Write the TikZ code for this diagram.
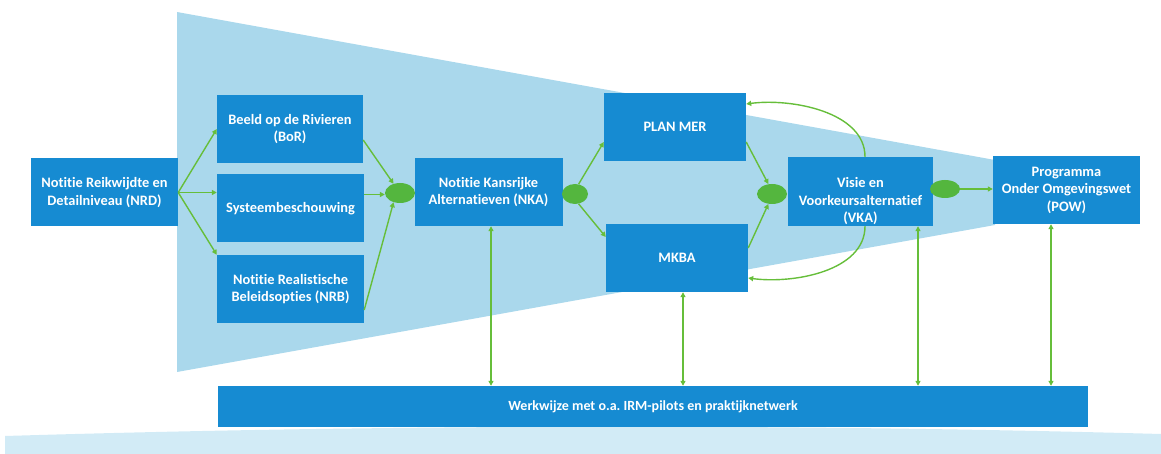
\documentclass[tikz,border=0pt]{standalone}
\usepackage{fontspec}
\setmainfont[Ligatures=NoCommon]{Carlito}
\usetikzlibrary{shapes.geometric,arrows.meta,calc}
\definecolor{boxblue}{RGB}{22,139,210}
\definecolor{funnelblue}{RGB}{170,216,236}
\definecolor{bandblue}{RGB}{210,235,246}
\definecolor{arrowgreen}{RGB}{102,190,58}
\definecolor{ovalgreen}{RGB}{84,182,62}
\tikzset{
  box/.style={fill=boxblue, draw=none, text=white,
    font=\bfseries\fontsize{14.4}{17.5}\selectfont, align=center,
    inner sep=0pt, minimum width=#1, minimum height=68pt},
  box/.default=147pt,
  merge/.style={ellipse, fill=ovalgreen, draw=none, inner sep=0pt,
    minimum width=30pt, minimum height=20pt},
  flow/.style={draw=arrowgreen, line width=1.4pt, -{Triangle[length=5pt,width=5pt]}},
  twoway/.style={draw=arrowgreen, line width=1.4pt,
    {Triangle[length=5pt,width=5pt]}-{Triangle[length=5pt,width=5pt]}}
}
\frenchspacing
\begin{document}
\begin{tikzpicture}[x=1pt,y=-1pt]
\useasboundingbox (0,0) rectangle (1161,454);
% background shapes
\fill[bandblue] (5,454) -- (5,436) .. controls (400,424) and (800,424) .. (1161,434) -- (1161,454) -- cycle;
\fill[funnelblue] (177,12) -- (995,160) -- (995,225) -- (177,372) -- cycle;

% boxes
\node[box] (NRD) at (104.5,192.5) {Notitie Reikwijdte en\\Detailniveau (NRD)};
\node[box=146pt] (BoR) at (290,129) {Beeld op de Rivieren\\(BoR)};
\node[box] (Syst) at (290.5,208.5) {Systeembeschouwing};
\node[box] (NRB) at (290.5,289) {Notitie Realistische\\Beleidsopties (NRB)};
\node[box=148pt] (NKA) at (488.5,192) {Notitie Kansrijke\\Alternatieven (NKA)};
\node[box=142pt] (PLAN) at (675,127) {PLAN MER};
\node[box=142pt] (MKBA) at (677,258) {MKBA};
\node[box=145pt, minimum height=69pt,
  label={[yshift=-10pt, text=white, font=\bfseries\fontsize{14.4}{17.5}\selectfont, align=center]center:Visie en\\Voorkeursalternatief\\(VKA)}]
  (VKA) at (860.5,191.5) {};
\node[box] (POW) at (1066.5,190) {Programma\\Onder Omgevingswet\\(POW)};
\node[box=870pt, minimum height=41pt, font=\bfseries\fontsize{14}{16}\selectfont] (Bar) at (653,406.5) {Werkwijze met o.a. IRM-pilots en praktijknetwerk};

% merge ovals
\node[merge] (O1) at (400,193) {};
\node[merge, minimum width=26pt] (O2) at (575,194) {};
\node[merge] (O3) at (772,194) {};
\node[merge, minimum height=18pt] (O4) at (945,189) {};

% arrows
\draw[flow] (NRD.east) -- (BoR.west);
\draw[flow] (NRD.east) -- (NRD.east -| Syst.west);
\draw[flow] (NRD.east) -- (NRB.north west);
\draw[flow] ([yshift=-11pt]BoR.east) -- (O1.125);
\draw[flow] ([yshift=14pt]Syst.east) -- ([yshift=14pt]Syst.east -| O1.west);
\draw[flow] ([yshift=-21pt]NRB.east) -- (O1.235);
\draw[flow] (O2.70) -- ([yshift=-15pt]PLAN.west);
\draw[flow] (O2.-70) -- ([yshift=21pt]MKBA.west);
\draw[flow] ([yshift=-15pt]PLAN.east) -- (O3.110);
\draw[flow] ([yshift=10pt]MKBA.east) -- (O3.-110);
\draw[flow] ([xshift=4.5pt]VKA.north) .. controls +(0,-45) and +(45,-6) .. ([yshift=23pt]PLAN.east);
\draw[flow] ([xshift=4.5pt]VKA.south) .. controls +(0,45) and +(45,6) .. ([yshift=-20pt]MKBA.east);
\draw[flow] (O4.east) -- (O4.east -| POW.west);

% links to the bottom bar
\draw[twoway] ([xshift=2.5pt]NKA.south) -- ([xshift=2.5pt]NKA.south |- Bar.north);
\draw[twoway] ([xshift=6pt]MKBA.south) -- ([xshift=6pt]MKBA.south |- Bar.north);
\draw[twoway] ([xshift=57.5pt]VKA.south) -- ([xshift=57.5pt]VKA.south |- Bar.north);
\draw[twoway] ([xshift=-15.5pt]POW.south) -- ([xshift=-15.5pt]POW.south |- Bar.north);
\end{tikzpicture}
\end{document}
